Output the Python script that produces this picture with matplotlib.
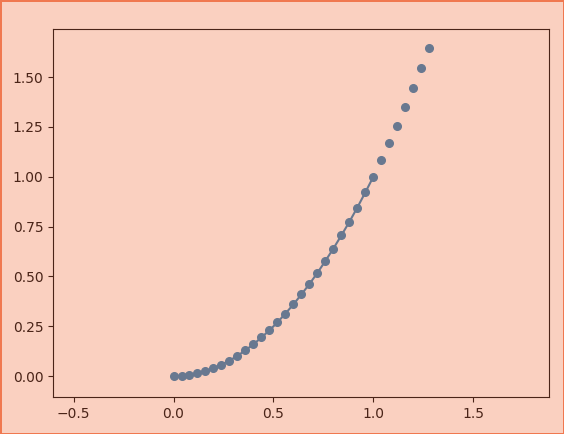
import matplotlib
matplotlib.use("Agg")
import matplotlib.pyplot as plt

# scatter points (x, y)
x_pts = [0.00, 0.04, 0.08, 0.12, 0.16, 0.20, 0.24, 0.28, 0.32, 0.36, 0.40,
         0.44, 0.48, 0.52, 0.56, 0.60, 0.64, 0.68, 0.72, 0.76, 0.80,
         0.84, 0.88, 0.92, 0.96, 1.00, 1.04, 1.08, 1.12, 1.16, 1.20,
         1.24, 1.28]
y_pts = [0.000, 0.002, 0.006, 0.014, 0.026, 0.040, 0.058, 0.078, 0.102, 0.130, 0.160,
         0.194, 0.230, 0.270, 0.314, 0.360, 0.410, 0.462, 0.518, 0.578, 0.640,
         0.706, 0.774, 0.846, 0.922, 1.000, 1.084, 1.168, 1.256, 1.350, 1.446,
         1.544, 1.645]
# the line only covers the first part of the points
n_line = 26

bg = "#fad0c0"
dark = "#4a2418"
pt_color = "#687890"

fig = plt.figure(figsize=(5.64, 4.34), dpi=100, facecolor=bg,
                 edgecolor="#f07850", linewidth=2)
ax = fig.add_axes([0.094, 0.085, 0.879, 0.848])
ax.set_facecolor(bg)

ax.plot(x_pts[:n_line], y_pts[:n_line], color=pt_color, lw=1.5)
ax.plot(x_pts, y_pts, "o", color=pt_color, ms=5.5)

ax.set_xlim(-0.603, 1.878)
ax.set_ylim(-0.105, 1.741)
ax.set_xticks([-0.5, 0.0, 0.5, 1.0, 1.5])
ax.set_yticks([0.0, 0.25, 0.5, 0.75, 1.0, 1.25, 1.5])

for s in ax.spines.values():
    s.set_color(dark)
ax.tick_params(colors=dark, labelcolor=dark)

fig.savefig("out.png", dpi=100, facecolor=bg, edgecolor=fig.get_edgecolor())
